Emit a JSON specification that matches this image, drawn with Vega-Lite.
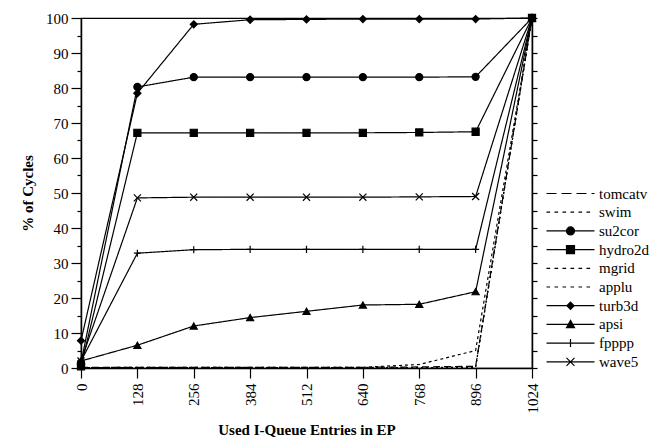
{
  "$schema": "https://vega.github.io/schema/vega-lite/v6.json",
  "width": 451,
  "height": 350,
  "autosize": {"type": "none"},
  "padding": {"left": 81, "top": 18, "right": 124, "bottom": 70},
  "config": {
    "font": "Liberation Serif",
    "view": {"stroke": "black", "strokeWidth": 1.2},
    "axis": {"domainColor": "black", "tickColor": "black", "labelColor": "black", "titleColor": "black", "domainWidth": 1.5, "tickWidth": 1.2, "grid": false, "labelFont": "Liberation Serif", "titleFont": "Liberation Serif", "labelFontSize": 15, "titleFontSize": 15, "titleFontWeight": "bold"}
  },
  "data": {"values": [
    {"series": "tomcatv", "x": 0, "y": 0.2}, {"series": "tomcatv", "x": 128, "y": 0.2}, {"series": "tomcatv", "x": 256, "y": 0.2}, {"series": "tomcatv", "x": 384, "y": 0.2}, {"series": "tomcatv", "x": 512, "y": 0.2}, {"series": "tomcatv", "x": 640, "y": 0.2}, {"series": "tomcatv", "x": 768, "y": 0.3}, {"series": "tomcatv", "x": 896, "y": 0.5}, {"series": "tomcatv", "x": 1024, "y": 100},
    {"series": "swim", "x": 0, "y": 0.1}, {"series": "swim", "x": 128, "y": 0.2}, {"series": "swim", "x": 256, "y": 0.2}, {"series": "swim", "x": 384, "y": 0.2}, {"series": "swim", "x": 512, "y": 0.2}, {"series": "swim", "x": 640, "y": 0.2}, {"series": "swim", "x": 768, "y": 1.0}, {"series": "swim", "x": 896, "y": 5.0}, {"series": "swim", "x": 1024, "y": 100},
    {"series": "su2cor", "x": 0, "y": 1.5}, {"series": "su2cor", "x": 128, "y": 80.3}, {"series": "su2cor", "x": 256, "y": 83.1}, {"series": "su2cor", "x": 384, "y": 83.1}, {"series": "su2cor", "x": 512, "y": 83.1}, {"series": "su2cor", "x": 640, "y": 83.1}, {"series": "su2cor", "x": 768, "y": 83.1}, {"series": "su2cor", "x": 896, "y": 83.2}, {"series": "su2cor", "x": 1024, "y": 100},
    {"series": "hydro2d", "x": 0, "y": 0.5}, {"series": "hydro2d", "x": 128, "y": 67.2}, {"series": "hydro2d", "x": 256, "y": 67.2}, {"series": "hydro2d", "x": 384, "y": 67.2}, {"series": "hydro2d", "x": 512, "y": 67.2}, {"series": "hydro2d", "x": 640, "y": 67.2}, {"series": "hydro2d", "x": 768, "y": 67.3}, {"series": "hydro2d", "x": 896, "y": 67.5}, {"series": "hydro2d", "x": 1024, "y": 100},
    {"series": "mgrid", "x": 0, "y": 0.1}, {"series": "mgrid", "x": 128, "y": 0.1}, {"series": "mgrid", "x": 256, "y": 0.1}, {"series": "mgrid", "x": 384, "y": 0.1}, {"series": "mgrid", "x": 512, "y": 0.1}, {"series": "mgrid", "x": 640, "y": 0.1}, {"series": "mgrid", "x": 768, "y": 0.1}, {"series": "mgrid", "x": 896, "y": 0.3}, {"series": "mgrid", "x": 1024, "y": 100},
    {"series": "applu", "x": 0, "y": 0}, {"series": "applu", "x": 128, "y": 0}, {"series": "applu", "x": 256, "y": 0}, {"series": "applu", "x": 384, "y": 0}, {"series": "applu", "x": 512, "y": 0}, {"series": "applu", "x": 640, "y": 0}, {"series": "applu", "x": 768, "y": 0.1}, {"series": "applu", "x": 896, "y": 0.2}, {"series": "applu", "x": 1024, "y": 100},
    {"series": "turb3d", "x": 0, "y": 7.8}, {"series": "turb3d", "x": 128, "y": 78.5}, {"series": "turb3d", "x": 256, "y": 98.2}, {"series": "turb3d", "x": 384, "y": 99.5}, {"series": "turb3d", "x": 512, "y": 99.6}, {"series": "turb3d", "x": 640, "y": 99.7}, {"series": "turb3d", "x": 768, "y": 99.7}, {"series": "turb3d", "x": 896, "y": 99.7}, {"series": "turb3d", "x": 1024, "y": 100},
    {"series": "apsi", "x": 0, "y": 2}, {"series": "apsi", "x": 128, "y": 6.5}, {"series": "apsi", "x": 256, "y": 12}, {"series": "apsi", "x": 384, "y": 14.4}, {"series": "apsi", "x": 512, "y": 16.2}, {"series": "apsi", "x": 640, "y": 18}, {"series": "apsi", "x": 768, "y": 18.2}, {"series": "apsi", "x": 896, "y": 21.8}, {"series": "apsi", "x": 1024, "y": 100},
    {"series": "fpppp", "x": 0, "y": 2}, {"series": "fpppp", "x": 128, "y": 32.8}, {"series": "fpppp", "x": 256, "y": 33.8}, {"series": "fpppp", "x": 384, "y": 33.9}, {"series": "fpppp", "x": 512, "y": 33.9}, {"series": "fpppp", "x": 640, "y": 33.9}, {"series": "fpppp", "x": 768, "y": 33.9}, {"series": "fpppp", "x": 896, "y": 33.9}, {"series": "fpppp", "x": 1024, "y": 100},
    {"series": "wave5", "x": 0, "y": 2}, {"series": "wave5", "x": 128, "y": 48.6}, {"series": "wave5", "x": 256, "y": 48.8}, {"series": "wave5", "x": 384, "y": 48.8}, {"series": "wave5", "x": 512, "y": 48.8}, {"series": "wave5", "x": 640, "y": 48.8}, {"series": "wave5", "x": 768, "y": 48.9}, {"series": "wave5", "x": 896, "y": 49}, {"series": "wave5", "x": 1024, "y": 100}
  ]},
  "resolve": {"axis": {"y": "independent"}, "scale": {"shape": "independent"}},
  "layer": [
    {
      "mark": {"type": "line", "color": "black", "strokeWidth": 1.2},
      "encoding": {
        "x": {"field": "x", "type": "quantitative", "scale": {"domain": [0, 1024], "nice": false},
              "axis": {"values": [0, 128, 256, 384, 512, 640, 768, 896, 1024], "format": "d", "tickSize": 10, "labelAngle": -90, "labelPadding": 5, "title": "Used I-Queue Entries in EP", "titlePadding": 9}},
        "y": {"field": "y", "type": "quantitative", "scale": {"domain": [0, 100], "nice": false},
              "axis": {"orient": "left", "values": [0,5,10,15,20,25,30,35,40,45,50,55,60,65,70,75,80,85,90,95,100],
                       "tickSize": {"condition": {"test": "datum.value % 10 === 0", "value": 10}, "value": 4},
                       "labelExpr": "datum.value % 10 === 0 ? datum.label : ''", "labelPadding": 3,
                       "title": "% of Cycles", "titlePadding": 10}},
        "detail": {"field": "series"},
        "strokeDash": {"field": "series", "type": "nominal", "legend": null,
          "scale": {"domain": ["tomcatv","swim","su2cor","hydro2d","mgrid","applu","turb3d","apsi","fpppp","wave5"],
                    "range": [[7,4],[3,3],[1,0],[1,0],[2,3],[2,3],[1,0],[1,0],[1,0],[1,0]]}}
      }
    },
    {
      "transform": [{"filter": "indexof(['su2cor','hydro2d','turb3d','apsi','fpppp','wave5'], datum.series) >= 0"}],
      "mark": {"type": "point", "filled": true, "fill": "black", "stroke": "black", "strokeWidth": 1.2, "size": 50, "opacity": 1},
      "encoding": {
        "x": {"field": "x", "type": "quantitative"},
        "y": {"field": "y", "type": "quantitative",
              "axis": {"orient": "right", "values": [0,5,10,15,20,25,30,35,40,45,50,55,60,65,70,75,80,85,90,95,100], "tickSize": 5, "labels": false, "title": null}},
        "shape": {"field": "series", "type": "nominal", "legend": null,
          "scale": {"domain": ["su2cor","hydro2d","turb3d","apsi","fpppp","wave5"],
                    "range": ["circle", "square", "diamond", "triangle-up", "M-1,0L1,0M0,-1L0,1", "M-1,-1L1,1M-1,1L1,-1"]}}
      }
    },
    {
      "transform": [{"filter": "datum.x === 1024"}],
      "mark": {"type": "point", "filled": false, "color": "black", "strokeWidth": 1.2, "opacity": 0, "size": 64},
      "encoding": {
        "x": {"field": "x", "type": "quantitative"},
        "y": {"field": "y", "type": "quantitative", "axis": null},
        "shape": {"field": "series", "type": "nominal",
          "scale": {"domain": ["tomcatv","swim","su2cor","hydro2d","mgrid","applu","turb3d","apsi","fpppp","wave5"],
                    "range": [
                      "M-1,0L1.5,0M2.75,0L5.25,0M6.5,0L9,0M10.25,0L11,0",
                      "M-1,0L-0.1,0M1,0L1.9,0M3,0L3.9,0M5,0L5.9,0M7,0L7.9,0M9,0L9.9,0",
                      "M-1,0L11,0M4,0A1,1 0 1,0 6,0A1,1 0 1,0 4,0Z",
                      "M-1,0L11,0M4,-1L6,-1L6,1L4,1Z",
                      "M-1,0L-0.1,0M1,0L1.9,0M3,0L3.9,0M5,0L5.9,0M7,0L7.9,0M9,0L9.9,0",
                      "M-1,0L-0.1,0M1,0L1.9,0M3,0L3.9,0M5,0L5.9,0M7,0L7.9,0M9,0L9.9,0",
                      "M-1,0L11,0M5,-0.9L5.9,0L5,0.9L4.1,0Z",
                      "M-1,0L11,0M5,-1L6,0.8L4,0.8Z",
                      "M-1,0L11,0M4,0L6,0M5,-1L5,1",
                      "M-1,0L11,0M4,-1L6,1M4,1L6,-1"
                    ]},
          "legend": {"orient": "none", "legendX": 462, "legendY": 168, "title": null, "padding": 0,
                     "symbolSize": 64, "symbolStrokeWidth": 1.2, "symbolOpacity": 1,
                     "labelFont": "Liberation Serif", "labelFontSize": 15, "labelColor": "black", "labelOffset": 41, "rowPadding": 2.7}}
      }
    },
    {
      "transform": [{"filter": "datum.x === 1024"}],
      "mark": {"type": "point", "filled": true, "color": "black", "opacity": 0, "size": 64},
      "encoding": {
        "x": {"field": "x", "type": "quantitative"},
        "y": {"field": "y", "type": "quantitative", "axis": null},
        "shape": {"field": "series", "type": "nominal",
          "scale": {"domain": ["tomcatv","swim","su2cor","hydro2d","mgrid","applu","turb3d","apsi","fpppp","wave5"],
                    "range": [
                      "M0,0",
                      "M0,0",
                      "M4,0A1,1 0 1,0 6,0A1,1 0 1,0 4,0Z",
                      "M4,-1L6,-1L6,1L4,1Z",
                      "M0,0",
                      "M0,0",
                      "M5,-0.9L5.9,0L5,0.9L4.1,0Z",
                      "M5,-1L6,0.8L4,0.8Z",
                      "M0,0",
                      "M0,0"
                    ]},
          "legend": {"orient": "none", "legendX": 462, "legendY": 168, "title": null, "padding": 0,
                     "symbolSize": 64, "symbolOpacity": 1,
                     "labelFont": "Liberation Serif", "labelFontSize": 15, "labelOpacity": 0, "labelOffset": 41, "rowPadding": 2.7}}
      }
    }
  ]
}
